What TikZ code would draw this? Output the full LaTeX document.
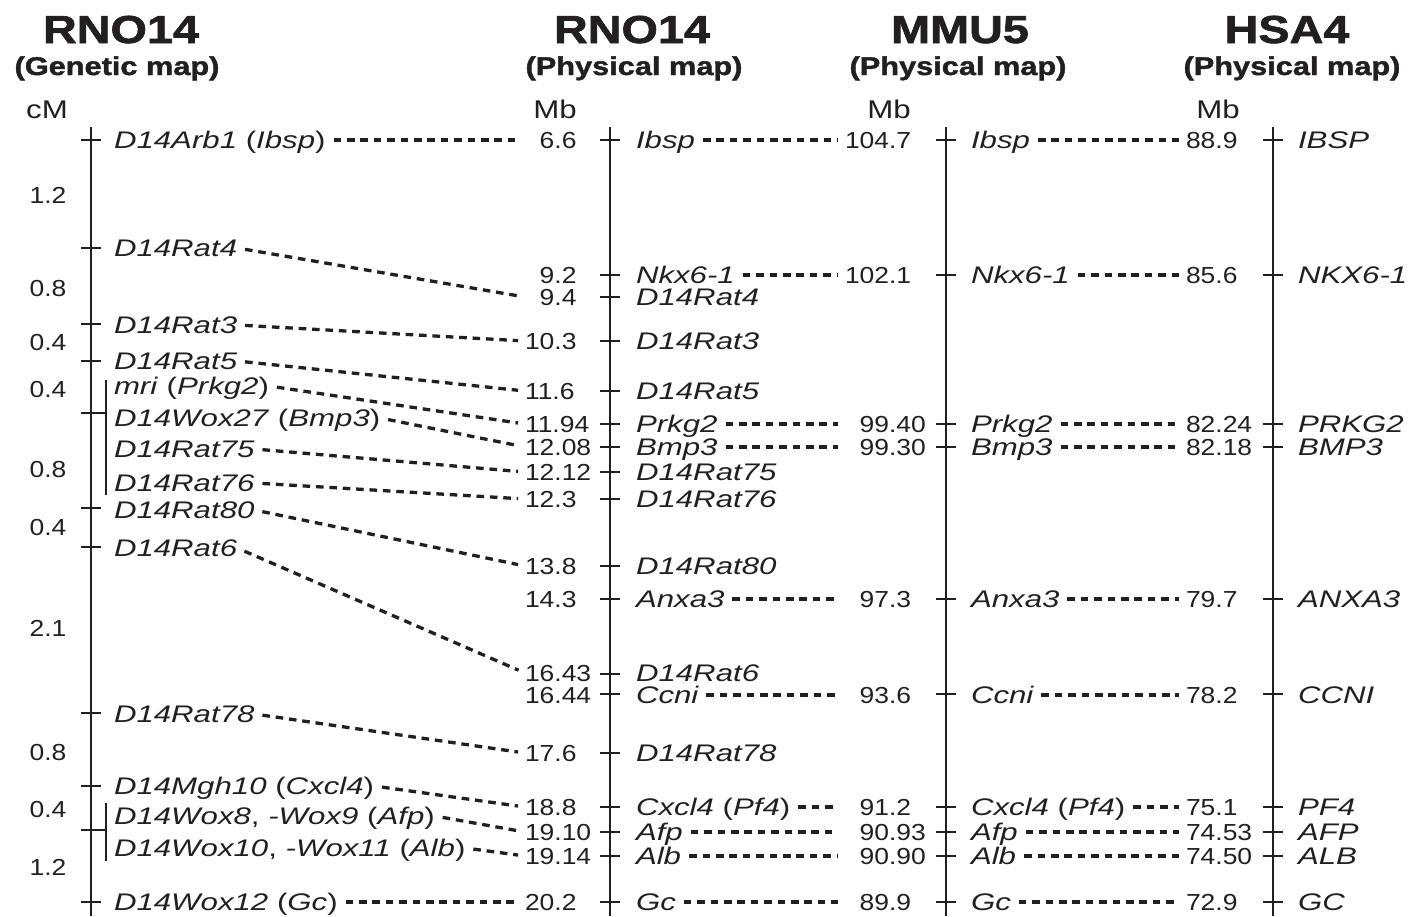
\documentclass[tikz,border=0pt]{standalone}
\usepackage{fontspec}
\usepackage{xcolor}
\usepackage{tikz}
\setmainfont{Liberation Sans}[FakeStretch=1.22]
\newfontfamily\numfont{Liberation Sans}[FakeStretch=1.14]
\newfontfamily\genefont{Liberation Sans}[FakeStretch=1.3]
\newfontfamily\headfont{Liberation Sans Bold}[FakeStretch=1.2, FakeBold=1.6]
\definecolor{mapink}{HTML}{231F20}
\newcommand{\pad}{\hphantom{0}}

\begin{document}
\begin{tikzpicture}[
    x=0.5pt, y=-0.5pt,
    every node/.style={
        inner sep=0pt,
        outer sep=0pt,
        text=mapink
    },
    maptitle/.style={
        anchor=base,
        font=\headfont\fontsize{19.5}{22}\selectfont
    },
    mapsub/.style={
        anchor=base,
        font=\headfont\fontsize{12.8}{15}\selectfont
    },
    unit/.style={
        anchor=base,
        font=\fontsize{12.8}{15}\selectfont
    },
    cmval/.style={
        font=\numfont\fontsize{11.6}{14}\selectfont,
        text height=8.3pt,
        text depth=0pt
    },
    mbval/.style={
        cmval,
        anchor=west
    },
    gene/.style={
        anchor=west,
        font=\genefont\fontsize{12}{14}\selectfont\itshape,
        text height=8.6pt,
        text depth=0pt
    },
    axis/.style={
        draw=mapink,
        line width=1.45pt
    },
    link/.style={
        draw=mapink,
        line width=1.65pt,
        dash pattern=on 3.8pt off 2.9pt,
        shorten <=4pt,
        shorten >=3.5pt
    }
]

\useasboundingbox (0,0) rectangle (1424,916);

% ============================================================
% Map titles and units
% ============================================================

\node[maptitle] (genTitle) at (121,43) {RNO14};
\node[mapsub] (genSub) at (117,75) {(Genetic map)};
\node[maptitle] (ratTitle) at (632,43) {RNO14};
\node[mapsub] (ratSub) at (634,75) {(Physical map)};
\node[maptitle] (mouseTitle) at (960,43) {MMU5};
\node[mapsub] (mouseSub) at (958,75) {(Physical map)};
\node[maptitle] (humanTitle) at (1287,43) {HSA4};
\node[mapsub] (humanSub) at (1292,75) {(Physical map)};

\node[unit] (genUnit) at (47,118) {cM};
\node[unit] (ratUnit) at (555,118) {Mb};
\node[unit] (mouseUnit) at (889,118) {Mb};
\node[unit] (humanUnit) at (1218,118) {Mb};

% ============================================================
% Chromosome axes, ticks and brackets
% ============================================================

\draw[axis] (91,127) -- (91,916);
\draw[axis] (610,127) -- (610,916);
\draw[axis] (946,127) -- (946,916);
\draw[axis] (1273,127) -- (1273,916);

\draw[axis] (81,140) -- (101,140) (81,248) -- (101,248)
    (81,324) -- (101,324) (81,361) -- (101,361)
    (81,413) -- (106,413) (81,508) -- (101,508)
    (81,547) -- (101,547) (81,713) -- (101,713)
    (81,786) -- (101,786) (81,830) -- (106,830)
    (81,902) -- (101,902);
\draw[axis] (106,380) -- (106,495) (106,803) -- (106,861);

\draw[axis] (600,140) -- (620,140) (600,275) -- (620,275)
    (600,297) -- (620,297) (600,341) -- (620,341)
    (600,391) -- (620,391) (600,424) -- (620,424)
    (600,447) -- (620,447) (600,472) -- (620,472)
    (600,499) -- (620,499) (600,566) -- (620,566)
    (600,599) -- (620,599) (600,674) -- (620,674)
    (600,694) -- (620,694) (600,753) -- (620,753)
    (600,807) -- (620,807) (600,832) -- (620,832)
    (600,856) -- (620,856) (600,902) -- (620,902);

\draw[axis] (936,140) -- (956,140) (936,275) -- (956,275)
    (936,424) -- (956,424) (936,447) -- (956,447)
    (936,599) -- (956,599) (936,694) -- (956,694)
    (936,807) -- (956,807) (936,832) -- (956,832)
    (936,856) -- (956,856) (936,902) -- (956,902);

\draw[axis] (1263,140) -- (1283,140) (1263,275) -- (1283,275)
    (1263,424) -- (1283,424) (1263,447) -- (1283,447)
    (1263,599) -- (1283,599) (1263,694) -- (1283,694)
    (1263,807) -- (1283,807) (1263,832) -- (1283,832)
    (1263,856) -- (1283,856) (1263,902) -- (1283,902);

% ============================================================
% RNO14 genetic map: intervals and markers
% ============================================================

\node[cmval] (cm1) at (48,195) {1.2};
\node[cmval] (cm2) at (48,288) {0.8};
\node[cmval] (cm3) at (48,342) {0.4};
\node[cmval] (cm4) at (48,389) {0.4};
\node[cmval] (cm5) at (48,469) {0.8};
\node[cmval] (cm6) at (48,527) {0.4};
\node[cmval] (cm7) at (48,628) {2.1};
\node[cmval] (cm8) at (48,752) {0.8};
\node[cmval] (cm9) at (48,809) {0.4};
\node[cmval] (cm10) at (48,867) {1.2};

\node[gene] (gArb1) at (114,140) {D14Arb1 \textup{(}Ibsp\textup{)}};
\node[gene] (gRat4) at (114,248) {D14Rat4};
\node[gene] (gRat3) at (114,325) {D14Rat3};
\node[gene] (gRat5) at (114,361) {D14Rat5};
\node[gene] (gMri) at (114,386) {mri \textup{(}Prkg2\textup{)}};
\node[gene] (gWox27) at (114,418) {D14Wox27 \textup{(}Bmp3\textup{)}};
\node[gene] (gRat75) at (114,449) {D14Rat75};
\node[gene] (gRat76) at (114,483) {D14Rat76};
\node[gene] (gRat80) at (114,510) {D14Rat80};
\node[gene] (gRat6) at (114,548) {D14Rat6};
\node[gene] (gRat78) at (114,714) {D14Rat78};
\node[gene] (gMgh10) at (114,786) {D14Mgh10 \textup{(}Cxcl4\textup{)}};
\node[gene] (gWox8) at (114,816) {D14Wox8\textup{,} -Wox9 \textup{(}Afp\textup{)}};
\node[gene] (gWox10) at (114,848) {D14Wox10\textup{,} -Wox11 \textup{(}Alb\textup{)}};
\node[gene] (gWox12) at (114,902) {D14Wox12 \textup{(}Gc\textup{)}};

% ============================================================
% RNO14 physical map
% ============================================================

\node[mbval] (rIbspMb) at (525,140) {\pad6.6};
\node[mbval] (rNkxMb) at (525,275) {\pad9.2};
\node[mbval] (rRat4Mb) at (525,297) {\pad9.4};
\node[mbval] (rRat3Mb) at (525,341) {10.3};
\node[mbval] (rRat5Mb) at (525,391) {11.6};
\node[mbval] (rPrkgMb) at (525,424) {11.94};
\node[mbval] (rBmpMb) at (525,447) {12.08};
\node[mbval] (rRat75Mb) at (525,472) {12.12};
\node[mbval] (rRat76Mb) at (525,499) {12.3};
\node[mbval] (rRat80Mb) at (525,566) {13.8};
\node[mbval] (rAnxaMb) at (525,599) {14.3};
\node[mbval] (rRat6Mb) at (525,673) {16.43};
\node[mbval] (rCcniMb) at (525,695) {16.44};
\node[mbval] (rRat78Mb) at (525,753) {17.6};
\node[mbval] (rCxclMb) at (525,807) {18.8};
\node[mbval] (rAfpMb) at (525,832) {19.10};
\node[mbval] (rAlbMb) at (525,856) {19.14};
\node[mbval] (rGcMb) at (525,902) {20.2};

\node[gene] (rIbsp) at (636,140) {Ibsp};
\node[gene] (rNkx) at (636,275) {Nkx6-1};
\node[gene] (rRat4) at (636,297) {D14Rat4};
\node[gene] (rRat3) at (636,341) {D14Rat3};
\node[gene] (rRat5) at (636,391) {D14Rat5};
\node[gene] (rPrkg) at (636,424) {Prkg2};
\node[gene] (rBmp) at (636,447) {Bmp3};
\node[gene] (rRat75) at (636,472) {D14Rat75};
\node[gene] (rRat76) at (636,499) {D14Rat76};
\node[gene] (rRat80) at (636,566) {D14Rat80};
\node[gene] (rAnxa) at (636,599) {Anxa3};
\node[gene] (rRat6) at (636,673) {D14Rat6};
\node[gene] (rCcni) at (636,695) {Ccni};
\node[gene] (rRat78) at (636,753) {D14Rat78};
\node[gene] (rCxcl) at (636,807) {Cxcl4 \textup{(}Pf4\textup{)}};
\node[gene] (rAfp) at (636,832) {Afp};
\node[gene] (rAlb) at (636,856) {Alb};
\node[gene] (rGc) at (636,902) {Gc};

% ============================================================
% MMU5 physical map
% ============================================================

\node[mbval] (mIbspMb) at (845,140) {104.7};
\node[mbval] (mNkxMb) at (845,275) {102.1};
\node[mbval] (mPrkgMb) at (845,424) {\pad99.40};
\node[mbval] (mBmpMb) at (845,447) {\pad99.30};
\node[mbval] (mAnxaMb) at (845,599) {\pad97.3};
\node[mbval] (mCcniMb) at (845,695) {\pad93.6};
\node[mbval] (mCxclMb) at (845,807) {\pad91.2};
\node[mbval] (mAfpMb) at (845,832) {\pad90.93};
\node[mbval] (mAlbMb) at (845,856) {\pad90.90};
\node[mbval] (mGcMb) at (845,902) {\pad89.9};

\node[gene] (mIbsp) at (971,140) {Ibsp};
\node[gene] (mNkx) at (971,275) {Nkx6-1};
\node[gene] (mPrkg) at (971,424) {Prkg2};
\node[gene] (mBmp) at (971,447) {Bmp3};
\node[gene] (mAnxa) at (971,599) {Anxa3};
\node[gene] (mCcni) at (971,695) {Ccni};
\node[gene] (mCxcl) at (971,807) {Cxcl4 \textup{(}Pf4\textup{)}};
\node[gene] (mAfp) at (971,832) {Afp};
\node[gene] (mAlb) at (971,856) {Alb};
\node[gene] (mGc) at (971,902) {Gc};

% ============================================================
% HSA4 physical map
% ============================================================

\node[mbval] (hIbspMb) at (1186,140) {88.9};
\node[mbval] (hNkxMb) at (1186,275) {85.6};
\node[mbval] (hPrkgMb) at (1186,424) {82.24};
\node[mbval] (hBmpMb) at (1186,447) {82.18};
\node[mbval] (hAnxaMb) at (1186,599) {79.7};
\node[mbval] (hCcniMb) at (1186,695) {78.2};
\node[mbval] (hCxclMb) at (1186,807) {75.1};
\node[mbval] (hAfpMb) at (1186,832) {74.53};
\node[mbval] (hAlbMb) at (1186,856) {74.50};
\node[mbval] (hGcMb) at (1186,902) {72.9};

\node[gene] (hIbsp) at (1298,140) {IBSP};
\node[gene] (hNkx) at (1298,275) {NKX6-1};
\node[gene] (hPrkg) at (1298,424) {PRKG2};
\node[gene] (hBmp) at (1298,447) {BMP3};
\node[gene] (hAnxa) at (1298,599) {ANXA3};
\node[gene] (hCcni) at (1298,695) {CCNI};
\node[gene] (hCxcl) at (1298,807) {PF4};
\node[gene] (hAfp) at (1298,832) {AFP};
\node[gene] (hAlb) at (1298,856) {ALB};
\node[gene] (hGc) at (1298,902) {GC};

% ============================================================
% Genetic map -> rat physical map
% ============================================================

\draw[link] (gArb1.east) -- (rIbspMb.west);
\draw[link] (gRat4.east) -- (rRat4Mb.west);
\draw[link] (gRat3.east) -- (rRat3Mb.west);
\draw[link] (gRat5.east) -- (rRat5Mb.west);
\draw[link] (gMri.east) -- (rPrkgMb.west);
\draw[link] (gWox27.east) -- (rBmpMb.west);
\draw[link] (gRat75.east) -- (rRat75Mb.west);
\draw[link] (gRat76.east) -- (rRat76Mb.west);
\draw[link] (gRat80.east) -- (rRat80Mb.west);
\draw[link] (gRat6.east) -- (rRat6Mb.west);
\draw[link] (gRat78.east) -- (rRat78Mb.west);
\draw[link] (gMgh10.east) -- (rCxclMb.west);
\draw[link] (gWox8.east) -- (rAfpMb.west);
\draw[link] (gWox10.east) -- (rAlbMb.west);
\draw[link] (gWox12.east) -- (rGcMb.west);

% ============================================================
% Rat -> mouse -> human
% ============================================================

\draw[link] (rIbsp.east) -- (mIbspMb.west);
\draw[link] (rNkx.east) -- (mNkxMb.west);
\draw[link] (rPrkg.east) -- (mPrkgMb.west);
\draw[link] (rBmp.east) -- (mBmpMb.west);
\draw[link] (rAnxa.east) -- (mAnxaMb.west);
\draw[link] (rCcni.east) -- (mCcniMb.west);
\draw[link] (rCxcl.east) -- (mCxclMb.west);
\draw[link] (rAfp.east) -- (mAfpMb.west);
\draw[link] (rAlb.east) -- (mAlbMb.west);
\draw[link] (rGc.east) -- (mGcMb.west);

\draw[link] (mIbsp.east) -- (hIbspMb.west);
\draw[link] (mNkx.east) -- (hNkxMb.west);
\draw[link] (mPrkg.east) -- (hPrkgMb.west);
\draw[link] (mBmp.east) -- (hBmpMb.west);
\draw[link] (mAnxa.east) -- (hAnxaMb.west);
\draw[link] (mCcni.east) -- (hCcniMb.west);
\draw[link] (mCxcl.east) -- (hCxclMb.west);
\draw[link] (mAfp.east) -- (hAfpMb.west);
\draw[link] (mAlb.east) -- (hAlbMb.west);
\draw[link] (mGc.east) -- (hGcMb.west);

\end{tikzpicture}
\end{document}
